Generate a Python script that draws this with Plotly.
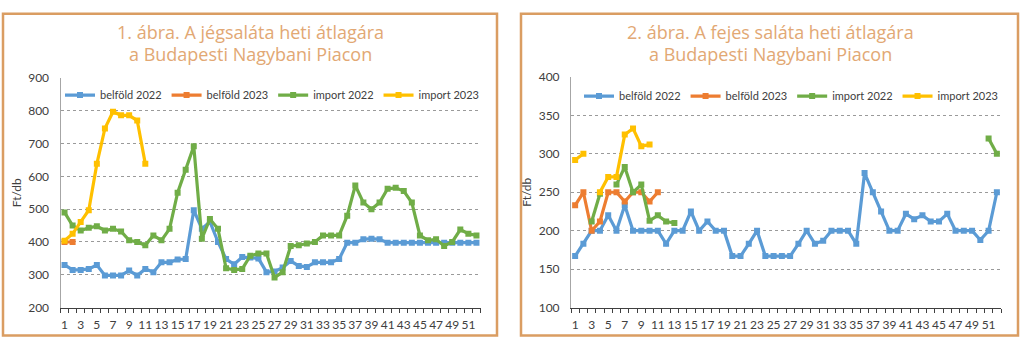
import plotly.graph_objects as go

weeks = list(range(1, 53))
tick_weeks = list(range(1, 52, 2))

# Chart 1: jégsaláta (Ft/db)
ice_belfold_2022 = [330, 315, 315, 318, 330, 298, 298, 298, 313, 298, 318, 308, 338, 338, 347, 348,
                    497, 440, 462, 400, 348, 332, 354, 353, 350, 308, 310, 322, 342, 327, 324, 338,
                    338, 338, 348, 398, 398, 408, 410, 408, 398, 398, 398, 398, 398, 398, 398, 398,
                    398, 398, 398, 398]
ice_belfold_2023 = [400, 400] + [None] * 50
ice_import_2022 = [490, 450, 435, 443, 448, 435, 440, 432, 405, 400, 390, 420, 405, 440, 550, 620,
                   692, 410, 470, 440, 320, 315, 318, 358, 365, 365, 292, 308, 388, 390, 395, 400,
                   420, 420, 420, 480, 572, 520, 500, 520, 562, 565, 555, 520, 420, 405, 408, 388,
                   400, 438, 425, 420]
ice_import_2023 = [404, 425, 461, 497, 638, 746, 797, 786, 786, 770, 638] + [None] * 41

# Chart 2: fejes saláta (Ft/db)
head_belfold_2022 = [167, 183, 200, 200, 220, 200, 233, 200, 200, 200, 200, 183, 200, 200, 225, 200,
                     212, 200, 200, 167, 167, 183, 200, 167, 167, 167, 167, 183, 200, 183, 187, 200,
                     200, 200, 183, 275, 250, 225, 200, 200, 222, 215, 220, 212, 212, 222, 200, 200,
                     200, 188, 200, 250]
head_belfold_2023 = [233, 250, 200, 212, 250, 250, 238, 250, 250, 238, 250] + [None] * 41
head_import_2022 = [None, None, 212, 248, None, 260, 283, 250, 260, 213, 220, 212, 210] + [None] * 37 + [320, 300]
head_import_2023 = [292, 300, None, 250, 270, 270, 325, 333, 310, 312] + [None] * 42

series_names = ["belföld 2022", "belföld 2023", "import 2022", "import 2023"]
colors = ["#5B9BD5", "#ED7D31", "#70AD47", "#FFC000"]

titles = [("1. ábra. A jégsaláta heti átlagára", "a Budapesti Nagybani Piacon"),
          ("2. ábra. A fejes saláta heti átlagára", "a Budapesti Nagybani Piacon")]

W, H = 1024, 351
FONT = "Lato"
TITLE_FONT = "Open Sans"
TXT = "#404040"
TITLE_C = "#E2A874"
BORDER_C = "#DA9D62"

fig = go.Figure()

def add_series(data_list, xa, ya, legend):
    for name, col, vals in zip(series_names, colors, data_list):
        fig.add_trace(go.Scatter(
            x=weeks, y=vals, name=name, mode="lines+markers",
            line=dict(color=col, width=3.2),
            marker=dict(symbol="square", size=6, color=col),
            connectgaps=False, xaxis=xa, yaxis=ya, legend=legend,
        ))

add_series([ice_belfold_2022, ice_belfold_2023, ice_import_2022, ice_import_2023], "x", "y", "legend")
add_series([head_belfold_2022, head_belfold_2023, head_import_2022, head_import_2023], "x2", "y2", "legend2")

def px_x(p):
    return p / W

def px_y(p):
    return 1 - p / H

xaxis_common = dict(
    range=[0.5, 52.5], tickmode="array", tickvals=tick_weeks, ticktext=[str(v) for v in tick_weeks],
    ticks="", showgrid=False, zeroline=False, showline=True, linecolor="#404040", linewidth=1,
    tickfont=dict(family=FONT, size=12, color=TXT), ticklabelstandoff=6,
    minor=dict(tick0=0.5, dtick=1, ticks="outside", ticklen=4, tickcolor="#404040", tickwidth=1, showgrid=False),
)
yaxis_common = dict(
    showgrid=True, gridcolor="#9A9A9A", griddash="dot", gridwidth=1, zeroline=False,
    showline=True, linecolor="#A6A6A6", linewidth=1, ticks="",
    tickfont=dict(family=FONT, size=12, color=TXT), ticklabelstandoff=8,
    title=dict(text="Ft/db", font=dict(family=FONT, size=12, color=TXT), standoff=4),
)

legend_common = dict(orientation="h", yanchor="middle", xanchor="right",
                     font=dict(family=FONT, size=11, color=TXT), bgcolor="rgba(0,0,0,0)",
                     itemwidth=30, tracegroupgap=0)

fig.update_layout(
    width=W, height=H, margin=dict(l=0, r=0, t=0, b=0),
    paper_bgcolor="white", plot_bgcolor="white",
    font=dict(family=FONT, color=TXT),
    xaxis=dict(domain=[px_x(60.5), px_x(480.5)], anchor="y", **xaxis_common),
    yaxis=dict(domain=[px_y(313), px_y(73)], anchor="x", range=[200, 900], dtick=100, **yaxis_common),
    xaxis2=dict(domain=[px_x(571), px_x(1001)], anchor="y2", **xaxis_common),
    yaxis2=dict(domain=[px_y(313), px_y(72)], anchor="x2", range=[100, 400], dtick=50, **yaxis_common),
    legend=dict(x=px_x(484), y=px_y(91), **legend_common),
    legend2=dict(x=px_x(1003), y=px_y(92), **legend_common),
    showlegend=True,
)

# Panel borders
for x0, x1 in [(3, 497), (521, 1018)]:
    fig.add_shape(type="rect", xref="paper", yref="paper",
                  x0=px_x(x0), x1=px_x(x1), y0=px_y(342), y1=px_y(6),
                  line=dict(color=BORDER_C, width=2.5), fillcolor="rgba(0,0,0,0)", layer="below")

# Titles
for cx, (l1, l2) in zip([250, 770], titles):
    for cy, txt in [(25, l1), (48, l2)]:
        fig.add_annotation(xref="paper", yref="paper", x=px_x(cx), y=px_y(cy),
                           xanchor="center", yanchor="middle", showarrow=False, text=txt,
                           font=dict(family=TITLE_FONT, size=18, color=TITLE_C))

fig.write_html("out.html")
